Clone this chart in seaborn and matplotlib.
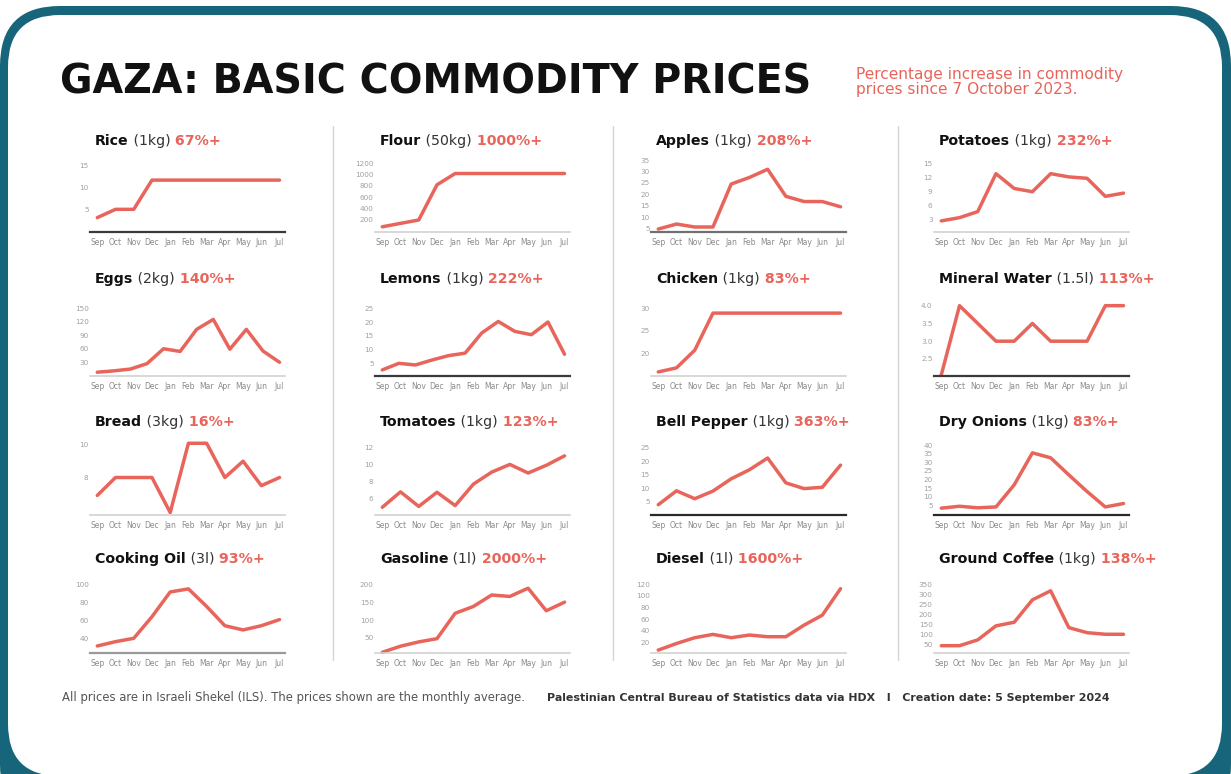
import numpy as np
import matplotlib
matplotlib.use("Agg")
import matplotlib.pyplot as plt
from matplotlib.patches import FancyBboxPatch
from matplotlib.lines import Line2D
import seaborn as sns

### Data (ILS, monthly average)
months = ["Sep", "Oct", "Nov", "Dec", "Jan", "Feb", "Mar", "Apr", "May", "Jun", "Jul"]

names = ["Rice", "Flour", "Apples", "Potatoes",
         "Eggs", "Lemons", "Chicken", "Mineral Water",
         "Bread", "Tomatoes", "Bell Pepper", "Dry Onions",
         "Cooking Oil", "Gasoline", "Diesel", "Ground Coffee"]
units = ["(1kg)", "(50kg)", "(1kg)", "(1kg)",
         "(2kg)", "(1kg)", "(1kg)", "(1.5l)",
         "(3kg)", "(1kg)", "(1kg)", "(1kg)",
         "(3l)", "(1l)", "(1l)", "(1kg)"]
increases = ["67%+", "1000%+", "208%+", "232%+",
             "140%+", "222%+", "83%+", "113%+",
             "16%+", "123%+", "363%+", "83%+",
             "93%+", "2000%+", "1600%+", "138%+"]

rice = [3.1, 5.0, 5.0, 11.7, 11.7, 11.7, 11.7, 11.7, 11.7, 11.7, 11.7]
flour = [80, 140, 200, 820, 1020, 1020, 1020, 1020, 1020, 1020, 1020]
apples = [4.7, 6.9, 5.6, 5.6, 24.5, 27.4, 31.0, 19.1, 16.8, 16.8, 14.5]
potatoes = [2.6, 3.3, 4.6, 12.8, 9.6, 8.9, 12.8, 12.1, 11.8, 7.9, 8.6]
eggs = [8, 11, 15, 27, 60, 54, 103, 125, 59, 103, 55, 30]
lemons = [2.6, 5.0, 4.4, 6.2, 7.8, 8.7, 16.0, 20.2, 16.6, 15.4, 20.0, 8.3]
chicken = [15.9, 16.8, 20.7, 28.9, 28.9, 28.9, 28.9, 28.9, 28.9, 28.9, 28.9]
mineral_water = [2.05, 4.0, 3.5, 3.0, 3.0, 3.5, 3.0, 3.0, 3.0, 4.0, 4.0]
bread = [6.9, 8.0, 8.0, 8.0, 5.85, 10.1, 10.1, 8.0, 9.0, 7.5, 8.0]
tomatoes = [5.0, 6.8, 5.1, 6.75, 5.2, 7.7, 9.1, 10.0, 9.0, 9.9, 11.0]
bell_pepper = [4.0, 9.1, 6.2, 9.0, 13.5, 16.8, 21.1, 12.0, 9.9, 10.4, 18.5]
dry_onions = [3.3, 4.4, 3.5, 4.0, 16.9, 35.6, 32.7, 22.7, 13.0, 4.0, 6.0]
cooking_oil = [31.5, 36.3, 40.0, 64.0, 91.5, 94.9, 75.4, 54.0, 49.3, 54.0, 60.8]
gasoline = [10, 27, 39, 48, 119, 138, 170, 166, 189, 126, 150]
diesel = [6.6, 18, 28, 33.7, 28, 32.6, 29.7, 29.7, 49.7, 66.9, 112.6]
ground_coffee = [43, 43, 72, 142, 160, 272, 317, 133, 108, 100, 100]

series = [rice, flour, apples, potatoes,
          eggs, lemons, chicken, mineral_water,
          bread, tomatoes, bell_pepper, dry_onions,
          cooking_oil, gasoline, diesel, ground_coffee]

y_ticks = [[5, 10, 15], [200, 400, 600, 800, 1000, 1200], [5, 10, 15, 20, 25, 30, 35], [3, 6, 9, 12, 15],
           [30, 60, 90, 120, 150], [5, 10, 15, 20, 25], [20, 25, 30], [2.5, 3.0, 3.5, 4.0],
           [8, 10], [6, 8, 10, 12], [5, 10, 15, 20, 25], [5, 10, 15, 20, 25, 30, 35, 40],
           [40, 60, 80, 100], [50, 100, 150, 200], [20, 40, 60, 80, 100, 120], [50, 100, 150, 200, 250, 300, 350]]
y_lims = [(-0.2, 17), (-12, 1311), (3.4, 36.4), (0.2, 16.4),
          (-0.4, 168), (0.4, 28), (15, 31.8), (2.02, 4.16),
          (5.7, 10.3), (4.1, 12.85), (0.24, 27.7), (-0.7, 43.1),
          (23.7, 107), (8, 217.5), (1.6, 131), (6.5, 381)]

# baseline (bottom spine) styling, varies panel to panel in the original
base_colors = ["#3a3a3a", "#d2d2d2", "#707070", "#d2d2d2",
               "#d2d2d2", "#3a3a3a", "#d2d2d2", "#3a3a3a",
               "#d2d2d2", "#d2d2d2", "#2a2a2a", "#2a2a2a",
               "#9a9a9a", "#d2d2d2", "#d2d2d2", "#d2d2d2"]

LINE = "#e8655c"
TEAL = "#16657a"
W, H = 1231, 774

sns.set_style("white")
plt.rcParams["font.family"] = ["DejaVu Sans"]

fig = plt.figure(figsize=(W / 100, H / 100), dpi=100)
fig.patch.set_facecolor("white")

### rounded teal frame (inch coordinates keep the corners round)
frame = FancyBboxPatch((0.0, -0.5), W / 100, (H - 6) / 100 + 0.5,
                       boxstyle="round,pad=0,rounding_size=0.6",
                       transform=fig.dpi_scale_trans, facecolor=TEAL,
                       edgecolor="none", zorder=0)
inner = FancyBboxPatch((0.08, -0.02), (W - 17) / 100, (776 - 15) / 100,
                       boxstyle="round,pad=0,rounding_size=0.52",
                       transform=fig.dpi_scale_trans, facecolor="white",
                       edgecolor="none", zorder=0)
fig.add_artist(frame)
fig.add_artist(inner)

### headings
fig.text(60 / W, 1 - 83 / H, "GAZA: BASIC COMMODITY PRICES", fontsize=28.5,
         fontweight="bold", color="#111111", va="center", ha="left")
fig.text(856 / W, 1 - 82 / H, "Percentage increase in commodity\nprices since 7 October 2023.",
         fontsize=11.1, color="#e8645a", va="center", ha="left", linespacing=1.05)

### panel geometry in pixels
rows_tb = [(157, 232), (300, 376), (440, 515), (578, 653)]
title_y = [141, 279, 422, 559]
cols_left = [90, 375, 651, 934]
col_w = 195

for i, values in enumerate(series):
    r, c = divmod(i, 4)
    top, bottom = rows_tb[r]
    ax = fig.add_axes([cols_left[c] / W, 1 - bottom / H, col_w / W, (bottom - top) / H])
    x = np.linspace(0, len(months) - 1, len(values))
    sns.lineplot(x=x, y=values, ax=ax, color=LINE, linewidth=2.5)
    for ln in ax.lines:
        ln.set_clip_on(False)
        ln.set_solid_joinstyle("round")
        ln.set_solid_capstyle("round")
    ax.set_xlim(-0.4, 10.3)
    ax.set_ylim(*y_lims[i])
    ax.set_xticks(range(len(months)))
    ax.set_xticklabels(months)
    ticks = y_ticks[i]
    ax.set_yticks(ticks)
    if any(t != int(t) for t in ticks):
        ax.set_yticklabels([f"{t:.1f}" for t in ticks])
    else:
        ax.set_yticklabels([str(int(t)) for t in ticks])
    ax.tick_params(axis="x", length=0, pad=4, labelsize=5.5, labelcolor="#8a8a8a")
    ax.tick_params(axis="y", length=0, pad=1, labelsize=5.2, labelcolor="#a0a0a0")
    ax.set_xlabel("")
    ax.set_ylabel("")
    ax.patch.set_alpha(0)
    for s in ["top", "right", "left"]:
        ax.spines[s].set_visible(False)
    ax.spines["bottom"].set_color(base_colors[i])
    ax.spines["bottom"].set_linewidth(1.6 if base_colors[i] != "#d2d2d2" else 1.2)

    # title: bold name, unit, coral percentage
    t1 = ax.annotate(names[i], xy=((cols_left[c] + 5) / W, 1 - title_y[r] / H),
                     xycoords="figure fraction", va="center", ha="left",
                     fontsize=10.2, fontweight="bold", color="#111111",
                     annotation_clip=False)
    t2 = ax.annotate(" " + units[i], xy=(1, 0), xycoords=t1, va="bottom", ha="left",
                     fontsize=10.2, color="#333333", annotation_clip=False)
    ax.annotate(" " + increases[i], xy=(1, 0), xycoords=t2, va="bottom", ha="left",
                fontsize=10.2, fontweight="bold", color="#e8655c", annotation_clip=False)

### column separators
for xs in [333, 613, 898]:
    fig.add_artist(Line2D([xs / W, xs / W], [1 - 126 / H, 1 - 660 / H],
                          transform=fig.transFigure, color="#d4d4d4", linewidth=1))

### footer
fig.text(62 / W, 1 - 698 / H,
         "All prices are in Israeli Shekel (ILS). The prices shown are the monthly average.",
         fontsize=8.4, color="#555555", va="center", ha="left")
fig.text(547 / W, 1 - 698 / H,
         "Palestinian Central Bureau of Statistics data via HDX   I   Creation date: 5 September 2024",
         fontsize=7.9, fontweight="bold", color="#333333", va="center", ha="left")

fig.savefig("out.png", dpi=100, facecolor="white")
